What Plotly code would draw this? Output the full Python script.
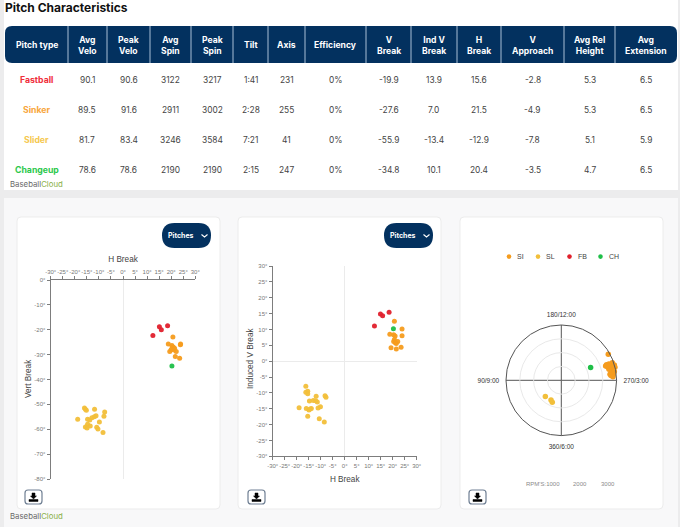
import plotly.graph_objects as go

W, H = 680, 527

# table
col_edges = [5, 68, 107, 150, 191, 233, 268, 305, 366, 411, 457, 501, 564, 615, 677]
headers = ["Pitch type", "Avg<br>Velo", "Peak<br>Velo", "Avg<br>Spin", "Peak<br>Spin", "Tilt", "Axis", "Efficiency",
           "V<br>Break", "Ind V<br>Break", "H<br>Break", "V<br>Approach", "Avg Rel<br>Height", "Avg<br>Extension"]
pitch_names = ["Fastball", "Sinker", "Slider", "Changeup"]
pitch_colors = ["#f0303c", "#f8a63c", "#f5c84e", "#2cc84c"]
fastball_row = ["90.1", "90.6", "3122", "3217", "1:41", "231", "0%", "-19.9", "13.9", "15.6", "-2.8", "5.3", "6.5"]
sinker_row = ["89.5", "91.6", "2911", "3002", "2:28", "255", "0%", "-27.6", "7.0", "21.5", "-4.9", "5.3", "6.5"]
slider_row = ["81.7", "83.4", "3246", "3584", "7:21", "41", "0%", "-55.9", "-13.4", "-12.9", "-7.8", "5.1", "5.9"]
changeup_row = ["78.6", "78.6", "2190", "2190", "2:15", "247", "0%", "-34.8", "10.1", "20.4", "-3.5", "4.7", "6.5"]
rows = [fastball_row, sinker_row, slider_row, changeup_row]
row_y = [80, 110, 140, 170]

# H break vs vert break
fb_hb = [15.1, 15.9, 18.5, 12.4]
fb_vb = [-18.8, -20.0, -18.4, -22.3]
si_hb = [20.7, 18.8, 23.9, 23.8, 20.3, 20.9, 20.0, 21.2, 19.4, 22.1, 20.6, 21.7, 23.5, 21.4]
si_vb = [-22.9, -25.7, -25.7, -26.0, -26.3, -27.0, -27.9, -28.1, -28.7, -28.7, -26.9, -30.8, -31.5, -27.4]
sl_hb = [-16.0, -15.6, -15.2, -11.8, -7.6, -7.9, -11.2, -11.9, -12.9, -14.7, -13.8, -18.8, -9.8, -14.7, -13.6, -15.6, -14.9, -10.9, -10.4, -8.3]
sl_vb = [-51.5, -52.0, -52.4, -52.0, -53.1, -54.8, -54.6, -55.0, -55.4, -56.0, -56.3, -56.0, -57.1, -58.0, -58.7, -59.1, -59.5, -59.2, -59.9, -61.3]
ch_hb = [20.3]
ch_vb = [-34.6]

# H break vs induced V break
fb_ivb_x = [14.9, 15.8, 18.5, 12.4]
fb_ivb_y = [14.9, 14.3, 15.4, 11.1]
si_ivb_x = [20.7, 23.9, 18.8, 20.4, 21.0, 23.9, 20.7, 22.1, 20.4, 21.1, 21.5, 19.3, 21.5, 23.5]
si_ivb_y = [12.6, 10.1, 8.5, 8.3, 7.9, 8.0, 6.8, 6.2, 6.2, 5.8, 5.6, 4.2, 3.8, 4.4]
sl_ivb_x = [-16.2, -15.4, -16.2, -15.4, -11.9, -8.2, -7.8, -14.7, -13.1, -12.1, -11.4, -19.0, -16.0, -14.9, -13.9, -14.4, -10.1, -11.1, -15.4, -10.6, -8.5]
sl_ivb_y = [-7.9, -9.5, -9.8, -10.3, -11.1, -10.9, -11.4, -12.6, -12.4, -12.5, -12.9, -14.7, -14.9, -15.4, -14.9, -15.1, -14.4, -14.8, -17.4, -18.2, -19.2]
ch_ivb_x = [20.3]
ch_ivb_y = [10.2]

# polar: axis degrees and rpm
si_axis = [241, 251, 251, 251, 255, 254, 258, 255, 262, 263, 264, 259.5, 254, 260.7, 252.1, 257, 256.4, 264.6, 253.3, 266]
si_rpm = [3885, 3900, 3460, 3640, 3770, 3490, 3840, 3640, 3815, 3550, 3780, 3700, 3990, 3885, 3368, 3537, 3990, 3606, 3598, 3744]
sl_axis = [44.4, 27.7, 22.3]
sl_rpm = [1650, 1605, 1720]
ch_axis = [246.6]
ch_rpm = [2310]

angle_vals = [0, 90, 180, 270]
angle_text = ["360/6:00", "90/9:00", "180/12:00", "270/3:00"]
rpm_ticks = [1000, 2000, 3000]
break_ticks = [-30, -25, -20, -15, -10, -5, 0, 5, 10, 15, 20, 25, 30]
break_labels = ["-30°", "-25°", "-20°", "-15°", "-10°", "-5°", "0°", "5°", "10°", "15°", "20°", "25°", "30°"]
vert_ticks = [-80, -70, -60, -50, -40, -30, -20, -10, 0]
vert_labels = ["-80°", "-70°", "-60°", "-50°", "-40°", "-30°", "-20°", "-10°", "0°"]

FB, SI, SL, CH = "#e0202c", "#f59c1e", "#f2bf3a", "#1fbf48"
NAVY = "#03315f"
TICK = "#777777"
AXIS = "#7d7d7d"
FONT = "Inter"
CHART_FONT = "Liberation Sans"


def px(x):
    return x / W


def py(y):
    return 1 - y / H


def round_rect(x0, y0, x1, y1, r):
    pts = [("M", x0 + r, y0), ("L", x1 - r, y0), ("Q", x1, y0, x1, y0 + r), ("L", x1, y1 - r),
           ("Q", x1, y1, x1 - r, y1), ("L", x0 + r, y1), ("Q", x0, y1, x0, y1 - r), ("L", x0, y0 + r),
           ("Q", x0, y0, x0 + r, y0)]
    out = ""
    for p in pts:
        out += p[0]
        coords = p[1:]
        out += " ".join(f"{px(coords[i]):.5f},{py(coords[i + 1]):.5f}" for i in range(0, len(coords), 2)) + " "
    return out + "Z"


shapes = []
annotations = []


def add_rect(x0, y0, x1, y1, color):
    shapes.append(dict(type="rect", xref="paper", yref="paper", x0=px(x0), x1=px(x1), y0=py(y0), y1=py(y1),
                       fillcolor=color, line_width=0, layer="below"))


def add_round(x0, y0, x1, y1, r, fill, line="rgba(0,0,0,0)", width=1):
    shapes.append(dict(type="path", xref="paper", yref="paper", path=round_rect(x0, y0, x1, y1, r),
                       fillcolor=fill, line=dict(color=line, width=width), layer="below"))


def add_text(x, y, text, size=8, color="#333333", bold=False, family=FONT, xanchor="center", angle=0):
    if bold:
        text = f"<b>{text}</b>"
    annotations.append(dict(xref="paper", yref="paper", x=px(x), y=py(y), text=text, showarrow=False,
                            font=dict(size=size, color=color, family=family), xanchor=xanchor, yanchor="middle",
                            align="center", textangle=angle))


def add_path(points, color, width=1.5, fill=None):
    d = "M" + " L".join(f"{px(a):.5f},{py(b):.5f}" for a, b in points)
    if fill:
        d += " Z"
    shapes.append(dict(type="path", xref="paper", yref="paper", path=d, fillcolor=fill,
                       line=dict(color=color, width=width), layer="above"))


def add_logo(x, y):
    add_text(x, y, 'Baseball<span style="color:#8ab04a">Cloud</span>', size=7.8, color="#6a6a6a", xanchor="left")


def add_pitch_button(x0):
    add_round(x0, 223, x0 + 49, 248, 12.5, NAVY)
    add_text(x0 + 19, 235, "Pitches", size=7, color="white", bold=True)
    add_path([(x0 + 39.5, 234.5), (x0 + 42.5, 237), (x0 + 45.5, 234.5)], "white", 1.1)


def add_download(x0):
    add_round(x0, 490, x0 + 17, 504, 3, "white", "#6f7f93", 1.2)
    cx = x0 + 8.5
    add_path([(cx - 1.5, 493), (cx + 1.5, 493), (cx + 1.5, 496), (cx + 3, 496), (cx, 499), (cx - 3, 496), (cx - 1.5, 496)],
             "black", 0.5, "black")
    add_path([(cx - 4.5, 499.5), (cx + 4.5, 499.5), (cx + 4.5, 501.5), (cx - 4.5, 501.5)], "black", 0.5, "black")


# page background and panels
add_rect(0, 0, W, H, "#ececed")
add_rect(4, 0, 678, 190, "white")
add_rect(4, 198, 678, 527, "#f8f8f9")
add_text(3, 8, "Pitch Characteristics", size=12, color="#111111", bold=True, xanchor="left")

# table
add_round(5, 26, 677, 63, 7, NAVY)
for edge in col_edges[1:-1]:
    shapes.append(dict(type="line", xref="paper", yref="paper", x0=px(edge), x1=px(edge), y0=py(26), y1=py(63),
                       line=dict(color="#a9bfd6", width=1), layer="below"))
centers = [(col_edges[i] + col_edges[i + 1]) / 2 for i in range(len(col_edges) - 1)]
for cx, head in zip(centers, headers):
    add_text(cx, 45, head, size=8.6, color="white", bold=True)
for name, color, row, y in zip(pitch_names, pitch_colors, rows, row_y):
    add_text(centers[0], y, name, size=8.7, color=color, bold=True)
    for cx, val in zip(centers[1:], row):
        add_text(cx, y, val, size=8.4, color="#444444")
add_logo(8, 184)

# cards
for x0, x1 in [(17, 220), (238, 441), (460, 663)]:
    add_round(x0, 217, x1, 509, 4, "white", "#ececec", 1)
add_pitch_button(162)
add_pitch_button(384)
add_download(25)
add_download(248)
add_download(469)
add_logo(8, 516)

# y axis titles sit closer to the ticks than plotly places them
add_text(28, 379, "Vert Break", size=8.2, color="#444444", family=CHART_FONT, angle=-90)
add_text(250, 359, "Induced V Break", size=8.2, color="#444444", family=CHART_FONT, angle=-90)

# polar legend and rpm labels
for lx, label, color in [(509, "SI", SI), (538, "SL", SL), (569.5, "FB", FB), (600.5, "CH", CH)]:
    shapes.append(dict(type="circle", xref="paper", yref="paper", x0=px(lx - 2.3), x1=px(lx + 2.3),
                       y0=py(258.9), y1=py(254.3), fillcolor=color, line_width=0))
    add_text(lx + 6, 256.5, label, size=7, color="#444444", family=CHART_FONT, xanchor="left")
for rx, label in [(543, "RPM'S:1000"), (579.5, str(rpm_ticks[1])), (607.5, str(rpm_ticks[2]))]:
    add_text(rx, 483.5, label, size=6, color="#8a8a8a", family=CHART_FONT)


def dots(x, y, color, xa, ya):
    return go.Scatter(x=x, y=y, mode="markers", xaxis=xa, yaxis=ya, showlegend=False,
                      marker=dict(size=5, color=color, opacity=0.95))


def polar_dots(theta, r, color):
    return go.Scatterpolar(theta=theta, r=r, mode="markers", showlegend=False, subplot="polar",
                           marker=dict(size=5.5, color=color))


fig = go.Figure()
fig.add_trace(dots(si_hb, si_vb, SI, "x", "y"))
fig.add_trace(dots(sl_hb, sl_vb, SL, "x", "y"))
fig.add_trace(dots(fb_hb, fb_vb, FB, "x", "y"))
fig.add_trace(dots(ch_hb, ch_vb, CH, "x", "y"))
fig.add_trace(dots(si_ivb_x, si_ivb_y, SI, "x2", "y2"))
fig.add_trace(dots(sl_ivb_x, sl_ivb_y, SL, "x2", "y2"))
fig.add_trace(dots(fb_ivb_x, fb_ivb_y, FB, "x2", "y2"))
fig.add_trace(dots(ch_ivb_x, ch_ivb_y, CH, "x2", "y2"))
fig.add_trace(polar_dots(si_axis, si_rpm, SI))
fig.add_trace(polar_dots(sl_axis, sl_rpm, SL))
fig.add_trace(polar_dots(ch_axis, ch_rpm, CH))

axis_style = dict(showgrid=False, zeroline=False, showline=True, linecolor=AXIS, linewidth=1.2, ticks="outside",
                  ticklen=3, tickcolor=AXIS, tickfont=dict(size=6, color=TICK, family=CHART_FONT), tickangle=0,
                  automargin=False)
title_font = dict(size=8.2, color="#444444", family=CHART_FONT)
zero_line = dict(zeroline=True, zerolinecolor="#ebebeb", zerolinewidth=1)

fig.update_layout(
    width=W, height=H, margin=dict(l=0, r=0, t=0, b=0, autoexpand=False), paper_bgcolor="#ececed",
    plot_bgcolor="rgba(0,0,0,0)", showlegend=False, shapes=shapes, annotations=annotations,
    xaxis=dict(domain=[px(50.7), px(195.3)], range=[-30, 30], tickvals=break_ticks, ticktext=break_labels, side="top",
               anchor="y", title=dict(text="H Break", font=title_font, standoff=4), **{**axis_style, **zero_line}),
    yaxis=dict(domain=[py(479), py(280)], range=[-80, 0], tickvals=vert_ticks, ticktext=vert_labels, anchor="x",
               **axis_style),
    xaxis2=dict(domain=[px(272.7), px(416.7)], range=[-30, 30], tickvals=break_ticks, ticktext=break_labels, anchor="y2",
                title=dict(text="H Break", font=title_font, standoff=8), **{**axis_style, **zero_line}),
    yaxis2=dict(domain=[py(456.3), py(266)], range=[-30, 30], tickvals=break_ticks, ticktext=break_labels, anchor="x2",
                **{**axis_style, **zero_line}),
    polar=dict(
        domain=dict(x=[px(506), px(616.6)], y=[py(435.6), py(325)]),
        bgcolor="rgba(0,0,0,0)",
        radialaxis=dict(range=[0, 4000], tickvals=rpm_ticks, showticklabels=False, ticks="", showline=False,
                        gridcolor="#e9e9e9", gridwidth=1),
        # invisible ticks only to push the labels away from the circle
        angularaxis=dict(direction="clockwise", rotation=270, tickvals=angle_vals, ticktext=angle_text, ticks="outside",
                         ticklen=5, tickcolor="rgba(0,0,0,0)", gridcolor="#555555", gridwidth=1, linecolor="#555555",
                         linewidth=1, tickfont=dict(size=6.5, color="#333333", family=CHART_FONT)),
    ),
)

# page default margin pushes the fixed-size plot off the window
fig.write_html("out.html", config=dict(displayModeBar=False),
               post_script="document.body.style.margin='0';document.body.style.overflow='hidden';")
